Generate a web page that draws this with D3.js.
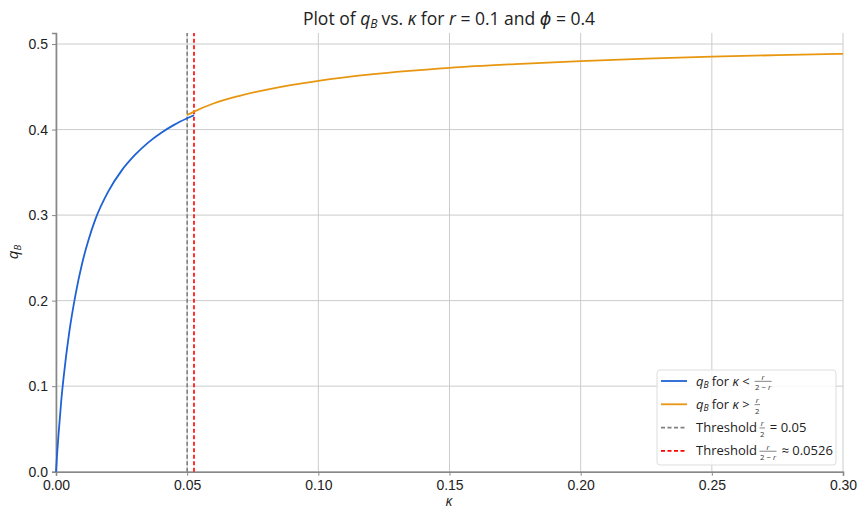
<!DOCTYPE html>
<html>
<head>
<meta charset="utf-8">
<script src="https://cdn.jsdelivr.net/npm/d3@7"></script>
<style>
  body { margin: 0; background: #fff; }
  svg { font-family: "Open Sans", "DejaVu Sans", sans-serif; }
  text { white-space: pre; }
</style>
</head>
<body>
<svg id="viz" width="858" height="510"></svg>
<script>
// values
var kappaLow = [0, 0.0005, 0.001, 0.002, 0.003, 0.005, 0.0075, 0.01, 0.0125, 0.015, 0.02, 0.025, 0.03, 0.035, 0.04, 0.045, 0.05, 0.0526]
var qLow = [0, 0.024, 0.045, 0.083, 0.113, 0.162, 0.208, 0.244, 0.272, 0.295, 0.328, 0.352, 0.370, 0.3845, 0.396, 0.4055, 0.4132, 0.4168]

var kappaHigh = [0.05, 0.0526, 0.06, 0.07, 0.08, 0.09, 0.10, 0.12, 0.15, 0.175, 0.20, 0.225, 0.25, 0.275, 0.30]
var qHigh = [0.417, 0.421, 0.4305, 0.4395, 0.4465, 0.4523, 0.457, 0.4645, 0.4722, 0.4765, 0.480, 0.483, 0.4853, 0.487, 0.4885]

var thresholds = [0.05, 0.0526]
var xTicks = [0, 0.05, 0.10, 0.15, 0.20, 0.25, 0.30]
var yTicks = [0, 0.1, 0.2, 0.3, 0.4, 0.5]

var blue = "#1f62d6", orange = "#e8960f", gray = "#808080", red = "#ff0000"

var svg = d3.select("#viz")
var x = d3.scaleLinear().domain([0, 0.3]).range([56, 843])
var y = d3.scaleLinear().domain([0, 0.5129]).range([471.7, 33])

// grid
svg.append("g").selectAll("line").data(xTicks).join("line")
  .attr("x1", d => x(d)).attr("x2", d => x(d))
  .attr("y1", y.range()[0]).attr("y2", y.range()[1])
  .style("stroke", "#cccccc").style("stroke-width", 1)
svg.append("g").selectAll("line").data(yTicks).join("line")
  .attr("x1", x.range()[0]).attr("x2", x.range()[1])
  .attr("y1", d => y(d)).attr("y2", d => y(d))
  .style("stroke", "#cccccc").style("stroke-width", 1)

// axes
var xAxis = svg.append("g").attr("transform", `translate(0,${y(0)})`)
  .call(d3.axisBottom(x).tickValues(xTicks).tickFormat(d3.format(".2f")).tickSizeOuter(0).tickSize(4).tickPadding(4))
var yAxis = svg.append("g").attr("transform", `translate(${x(0)},0)`)
  .call(d3.axisLeft(y).tickValues(yTicks).tickFormat(d3.format(".1f")).tickSizeOuter(0).tickSize(4).tickPadding(4))
;[xAxis, yAxis].forEach(a => {
  a.select(".domain").style("stroke", "#888").style("stroke-width", 1.6)
  a.selectAll(".tick line").style("stroke", "#888").style("stroke-width", 1)
  a.selectAll(".tick text").style("font-size", "14px").style("fill", "#222").style("font-family", "inherit")
})

// threshold lines
svg.append("line").attr("x1", x(thresholds[0])).attr("x2", x(thresholds[0]))
  .attr("y1", y.range()[0]).attr("y2", y.range()[1])
  .style("stroke", gray).style("stroke-width", 1.6).style("stroke-dasharray", "4,2.5")
svg.append("line").attr("x1", x(thresholds[1])).attr("x2", x(thresholds[1]))
  .attr("y1", y.range()[0]).attr("y2", y.range()[1])
  .style("stroke", red).style("stroke-width", 1.6).style("stroke-dasharray", "4,2.5")

// curves
var line = d3.line().x(d => x(d[0])).y(d => y(d[1])).curve(d3.curveMonotoneX)
svg.append("path").datum(d3.zip(kappaLow, qLow)).attr("d", line)
  .style("fill", "none").style("stroke", blue).style("stroke-width", 1.8)
svg.append("path").datum(d3.zip(kappaHigh, qHigh)).attr("d", line)
  .style("fill", "none").style("stroke", orange).style("stroke-width", 1.8)

// rich text helper: segments placed one after another
function rich(g, x0, y0, segs, size) {
  var cx = x0
  segs.forEach(s => {
    if (s.frac) {
      var fs = size * 0.6
      var n = g.append("text").text(s.frac[0]).style("font-size", fs + "px").style("font-style", "italic").attr("y", y0 - size * 0.45).attr("fill", "#333")
      var d = g.append("text").attr("y", y0 + size * 0.38).style("font-size", fs + "px").attr("fill", "#333")
      s.frac[1].forEach(p => d.append("tspan").text(p.t).style("font-style", p.i ? "italic" : "normal"))
      var w = Math.max(n.node().getComputedTextLength(), d.node().getComputedTextLength()) + 2
      n.attr("x", cx + 1 + (w - 2 - n.node().getComputedTextLength()) / 2)
      d.attr("x", cx + 1 + (w - 2 - d.node().getComputedTextLength()) / 2)
      g.append("line").attr("x1", cx + 0.5).attr("x2", cx + w - 0.5).attr("y1", y0 - size * 0.32).attr("y2", y0 - size * 0.32)
        .style("stroke", "#333").style("stroke-width", 0.6)
      cx += w + (s.pad || 1)
    } else {
      var t = g.append("text").attr("x", cx).attr("y", y0 + (s.dy || 0)).text(s.t)
        .style("font-size", (s.size || size) + "px").style("font-style", s.i ? "italic" : "normal").attr("fill", "#222")
      cx += t.node().getComputedTextLength() + (s.pad || 0)
    }
  })
  return cx - x0
}

// title (measured then centred)
var titleSegs = [
  {t: "Plot of "}, {t: "q", i: true}, {t: "B", i: true, size: 12, dy: 3, pad: 4}, {t: "vs. "}, {t: "κ", i: true},
  {t: " for "}, {t: "r", i: true}, {t: " = 0.1 and "}, {t: "ϕ", i: true}, {t: " = 0.4"}
]
var tg = svg.append("g")
var tw = rich(tg, 0, 25, titleSegs, 17.5)
tg.attr("transform", `translate(${449 - tw / 2},0)`)

// axis labels
svg.append("text").attr("x", 449).attr("y", 506).attr("text-anchor", "middle")
  .style("font-size", "14px").style("font-style", "italic").attr("fill", "#222").text("κ")
var yl = svg.append("g").attr("transform", "translate(18,252) rotate(-90)")
var yw = rich(yl, 0, 0, [{t: "q", i: true}, {t: "B", i: true, size: 9.5, dy: 3}], 15)
yl.selectAll("text").attr("transform", `translate(${-yw / 2},0)`)

// legend
var lg = svg.append("g")
lg.append("rect").attr("x", 657).attr("y", 370).attr("width", 179).attr("height", 95).attr("rx", 3)
  .style("fill", "#fff").style("fill-opacity", 0.85).style("stroke", "#dddddd").style("stroke-width", 1)
var fracLow = {frac: ["r", [{t: "2 − "}, {t: "r", i: true}]]}
var fracHalf = {frac: ["r", [{t: "2"}]]}
var legendItems = [
  {color: blue, dash: null, segs: [{t: "q", i: true}, {t: "B", i: true, size: 8.5, dy: 2.5, pad: 3}, {t: "for "}, {t: "κ", i: true}, {t: " < ", pad: 1}, fracLow]},
  {color: orange, dash: null, segs: [{t: "q", i: true}, {t: "B", i: true, size: 8.5, dy: 2.5, pad: 3}, {t: "for "}, {t: "κ", i: true}, {t: " > ", pad: 1}, fracHalf]},
  {color: gray, dash: "4,2.5", segs: [{t: "Threshold", pad: 2}, Object.assign({pad: 1}, fracHalf), {t: " = 0.05"}]},
  {color: red, dash: "4,2.5", segs: [{t: "Threshold", pad: 2}, Object.assign({pad: 1}, fracLow), {t: " ≈ 0.0526"}]}
]
legendItems.forEach((it, i) => {
  var yy = 381 + i * 23.3
  lg.append("line").attr("x1", 661).attr("x2", 687).attr("y1", yy).attr("y2", yy)
    .style("stroke", it.color).style("stroke-width", 1.8).style("stroke-dasharray", it.dash)
  rich(lg, 696, yy + 4.5, it.segs, 13)
})
</script>
</body>
</html>
